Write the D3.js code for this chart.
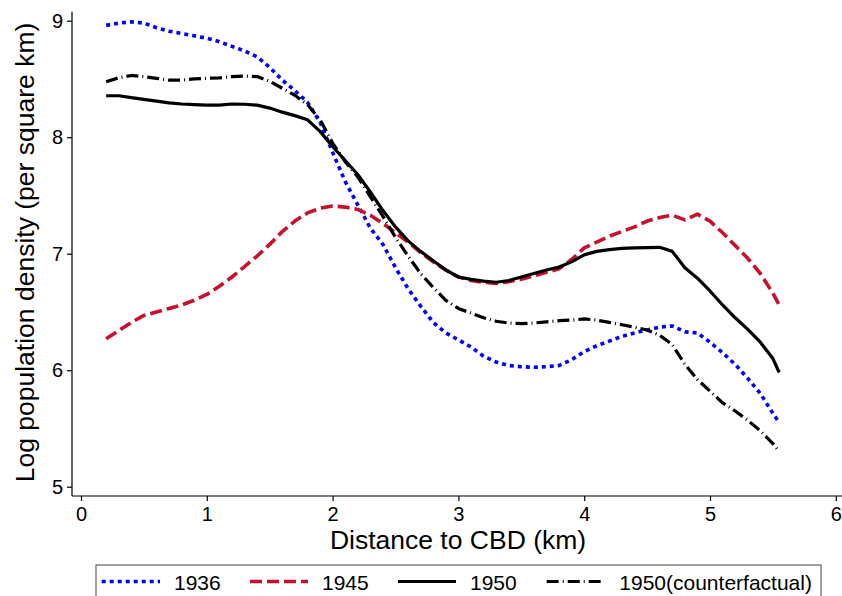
<!DOCTYPE html>
<html><head><meta charset="utf-8">
<script src="https://cdn.jsdelivr.net/npm/d3@7"></script>
<style>body{margin:0;background:#fff}svg{display:block}text{font-family:"Liberation Sans",Arial,sans-serif;fill:#000}</style>
</head><body><svg id="c" width="842" height="596"></svg>
<script>
const distance = [0.2,0.3,0.4,0.5,0.6,0.7,0.8,0.9,1.0,1.1,1.2,1.3,1.4,1.5,1.6,1.7,1.8,1.9,2.0,2.1,2.2,2.3,2.4,2.5,2.6,2.7,2.8,2.9,3.0,3.1,3.2,3.3,3.4,3.5,3.6,3.7,3.8,3.9,4.0,4.1,4.2,4.3,4.4,4.5,4.6,4.7,4.8,4.9,5.0,5.1,5.2,5.3,5.4,5.5,5.55];
const y1936 = [8.96,8.98,8.99,8.98,8.94,8.91,8.89,8.87,8.85,8.82,8.78,8.74,8.69,8.60,8.49,8.40,8.30,8.13,7.87,7.62,7.42,7.22,7.08,6.88,6.70,6.55,6.41,6.32,6.26,6.20,6.12,6.07,6.04,6.03,6.025,6.03,6.04,6.09,6.16,6.21,6.25,6.29,6.32,6.345,6.37,6.38,6.33,6.32,6.24,6.15,6.05,5.93,5.80,5.63,5.55];
const y1945 = [6.27,6.34,6.41,6.47,6.50,6.53,6.56,6.60,6.65,6.72,6.80,6.89,6.98,7.08,7.19,7.28,7.35,7.39,7.41,7.40,7.38,7.33,7.26,7.18,7.10,7.01,6.93,6.86,6.80,6.77,6.755,6.745,6.76,6.78,6.81,6.84,6.87,6.95,7.05,7.10,7.15,7.19,7.23,7.28,7.31,7.33,7.29,7.34,7.28,7.18,7.07,6.96,6.83,6.66,6.56];
const y1950 = [8.356,8.356,8.34,8.325,8.31,8.295,8.285,8.28,8.275,8.275,8.285,8.283,8.275,8.25,8.215,8.185,8.15,8.05,7.92,7.80,7.68,7.53,7.37,7.23,7.11,7.02,6.94,6.86,6.80,6.78,6.765,6.755,6.77,6.80,6.83,6.86,6.885,6.93,6.99,7.02,7.035,7.045,7.05,7.053,7.055,7.02,6.88,6.79,6.68,6.56,6.45,6.35,6.24,6.10,5.98];
const y1950cf = [8.476,8.51,8.53,8.52,8.505,8.49,8.49,8.50,8.505,8.51,8.52,8.525,8.52,8.48,8.42,8.36,8.28,8.15,7.95,7.79,7.66,7.49,7.32,7.14,6.98,6.83,6.71,6.60,6.53,6.49,6.45,6.42,6.405,6.40,6.405,6.415,6.425,6.43,6.44,6.43,6.41,6.39,6.37,6.345,6.30,6.22,6.05,5.92,5.82,5.72,5.65,5.57,5.48,5.37,5.30];
const xTicks = [0,1,2,3,4,5,6];
const yTicks = [5,6,7,8,9];
const seriesNames = ["1936","1945","1950","1950(counterfactual)"];

const svg = d3.select("#c");
const x = d3.scaleLinear().domain([0,6]).range([81,835.8]);
const y = d3.scaleLinear().domain([5,9]).range([486.7,20.7]);
const styles = [
  {color:"#0000ff", dash:"4,4", w:3.6, cap:"butt"},
  {color:"#c8102e", dash:"12,5", w:3.6, cap:"butt"},
  {color:"#000000", dash:null, w:3.2, cap:"butt"},
  {color:"#000000", dash:"12,4,1,4", w:3.2, cap:"butt"}
];
const allY = [y1936,y1945,y1950,y1950cf];

// axes lines
svg.append("line").attr("x1",72).attr("x2",72).attr("y1",11.7).attr("y2",496).attr("stroke","#000").attr("stroke-width",1.2);
svg.append("line").attr("x1",72).attr("x2",842).attr("y1",496).attr("y2",496).attr("stroke","#000").attr("stroke-width",1.2);

const xa = svg.append("g").attr("transform","translate(0,496)")
  .call(d3.axisBottom(x).tickValues(xTicks).tickFormat(d3.format("d")).tickSize(5).tickPadding(6));
xa.select(".domain").remove();
xa.selectAll("text").attr("font-size",20).attr("font-family","Liberation Sans, Arial, sans-serif");
xa.selectAll("line").attr("stroke-width",1.2);

const ya = svg.append("g").attr("transform","translate(72,0)")
  .call(d3.axisLeft(y).tickValues(yTicks).tickFormat(d3.format("d")).tickSize(5).tickPadding(4));
ya.select(".domain").remove();
ya.selectAll("text").attr("font-size",20).attr("font-family","Liberation Sans, Arial, sans-serif");
ya.selectAll("line").attr("stroke-width",1.2);

// titles
svg.append("text").attr("x",458).attr("y",549).attr("text-anchor","middle").attr("font-size",26.5).text("Distance to CBD (km)");
svg.append("text").attr("transform","translate(34,252.5) rotate(-90)").attr("text-anchor","middle").attr("font-size",26.5).text("Log population density (per square km)");

// lines
const line = d3.line().x((d,i)=>x(distance[i])).y(d=>y(d));
allY.forEach((vals,k)=>{
  const s = styles[k];
  const p = svg.append("path").datum(vals).attr("d",line).attr("fill","none")
    .attr("stroke",s.color).attr("stroke-width",s.w).attr("stroke-linejoin","round").attr("stroke-linecap",s.cap);
  if(s.dash) p.attr("stroke-dasharray",s.dash);
});

// legend
svg.append("rect").attr("x",96).attr("y",565).attr("width",725).attr("height",50).attr("fill","none").attr("stroke","#444").attr("stroke-width",1);
const legX = [[101.7,160,174],[250,308,322],[398,456,470],[546.7,604,619.3]];
seriesNames.forEach((n,k)=>{
  const s = styles[k];
  const l = svg.append("line").attr("x1",legX[k][0]).attr("x2",legX[k][1]).attr("y1",581.5).attr("y2",581.5)
    .attr("stroke",s.color).attr("stroke-width",s.w);
  if(s.dash) l.attr("stroke-dasharray",s.dash);
  svg.append("text").attr("x",legX[k][2]).attr("y",590).attr("font-size",21).text(n);
});
</script></body></html>
